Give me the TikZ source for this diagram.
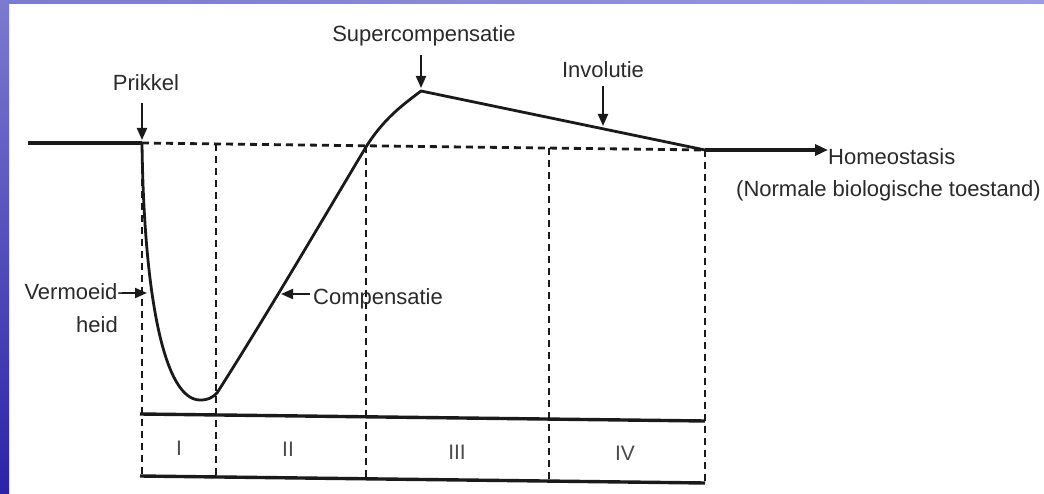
\documentclass[tikz,border=0pt]{standalone}
\usepackage{fontspec}
\setmainfont{Liberation Sans}
\usetikzlibrary{arrows.meta}

\definecolor{slideblue}{HTML}{2B23A8}
\definecolor{slidelilac}{HTML}{7B7BD0}
\definecolor{slidepale}{HTML}{9A9AE6}
\definecolor{ink}{HTML}{1A1A1A}
\definecolor{txt}{HTML}{2A2A2A}

\begin{document}
\begin{tikzpicture}[
  x=1pt, y=-1pt,
  lbl/.style={inner sep=0pt, text=txt, font=\fontsize{22}{26}\selectfont},
  roman/.style={inner sep=0pt, text=txt!85, font=\fontsize{21}{25}\selectfont},
  curve/.style={draw=ink, line width=2.8pt, line join=round},
  base/.style={draw=ink, line width=3.4pt},
  grid/.style={draw=ink, line width=2.8pt, dash pattern=on 7pt off 5pt},
  arr/.style={draw=ink, line width=2pt, -{Triangle[length=12pt,width=10pt]}}
]
% slide background
\useasboundingbox (0,0) rectangle (1044,494);
\fill[white] (0,0) rectangle (1044,494);
\shade[top color=slidelilac, bottom color=slideblue] (0,0) rectangle (9,494);
\shade[left color=slidelilac, right color=slidepale] (0,0) rectangle (1044,4);

% points on the curve
\coordinate (start) at (142,143);
\coordinate (dip)   at (200,400);
\coordinate (up)    at (217,393);
\coordinate (cross) at (366,147);
\coordinate (peak)  at (421,91);
\coordinate (end)   at (705,150);
\coordinate (fatigue)  at (147,293);
\coordinate (comptip)  at (281,294);
\coordinate (involtip) at (603,126);

% time bands
\foreach \x/\ya/\yb in {142/143/477, 216/144/478, 366/146/479,
                        549/148/481, 705/150/482}
  \draw[grid] (\x,\ya) -- (\x,\yb);
\draw[grid] (start) -- (end);
\draw[base] (140,414) -- (705,421);
\draw[base] (140,476) -- (705,483);

% level and curve
\draw[base] (28,143) -- (start);
\draw[curve] (start) .. controls (144,300) and (165,400) .. (dip)
  .. controls (208,400) and (212,398) .. (up)
  .. controls (270,310) and (340,190) .. (cross)
  .. controls (384,118) and (404,104) .. (peak) -- (end);

% labels
\node[lbl, anchor=base] (prikkel) at (146,91) {Prikkel};
\node[lbl, anchor=base] (supcomp) at (424,42) {Supercompensatie};
\node[lbl, anchor=base] (invol) at (603,78) {Involutie};
\node[lbl, anchor=base west] (homeo) at (828,165) {Homeostasis};
\node[lbl, anchor=base west] (normaal) at (736,197) {(Normale biologische toestand)};
\node[lbl, anchor=base west] (comp) at (313,305) {Compensatie};
\node[lbl, anchor=base east] (vermoeid) at (125,300) {Vermoeid-};
\node[lbl, anchor=base east] (heid) at (118,333) {heid};

\node[roman, anchor=base] (fase1) at (179,455) {I};
\node[roman, anchor=base] (fase2) at (288,456) {II};
\node[roman, anchor=base] (fase3) at (457,459) {III};
\node[roman, anchor=base] (fase4) at (625,460) {IV};

% arrows
\draw[arr, shorten <=12pt] (prikkel.south -| start) -- ([yshift=3pt]start);
\draw[arr, shorten <=8pt] (supcomp.south -| peak) -- ([yshift=3pt]peak);
\draw[arr, shorten <=8pt] (invol.south -| involtip) -- (involtip);
\draw[arr] ([xshift=-3pt]vermoeid.east |- fatigue) -- (fatigue);
\draw[arr] ([xshift=-3pt]comp.west |- comptip) -- (comptip);
\draw[base, -{Triangle[length=13pt,width=11pt]}] (end) -- (end -| homeo.west);
\end{tikzpicture}
\end{document}
